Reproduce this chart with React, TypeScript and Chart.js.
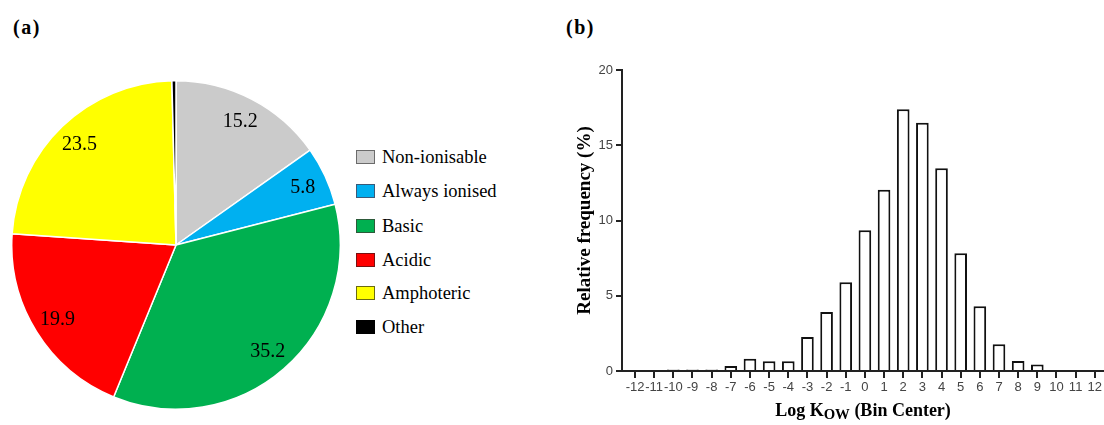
import React, { useEffect, useRef } from "react";
import { Chart, registerables } from "chart.js";

Chart.register(...registerables);

// ---------- Panel (a) data ----------
const pieLabels = ["Non-ionisable", "Always ionised", "Basic", "Acidic", "Amphoteric", "Other"];
const pieValues = [15.2, 5.8, 35.2, 19.9, 23.5, 0.4];
const pieColors = ["#cbcbcb", "#00b0f0", "#00b050", "#ff0000", "#ffff00", "#000000"];
const legendBorders = ["#6b6b6b", "#3a5a78", "#2d5a3a", "#7a1010", "#6b6b10", "#000000"];

// ---------- Panel (b) data ----------
const binCenters = [-12, -11, -10, -9, -8, -7, -6, -5, -4, -3, -2, -1, 0, 1, 2, 3, 4, 5, 6, 7, 8, 9, 10, 11, 12];
const relFreq = [0, 0, 0.1, 0.1, 0.1, 0.33, 0.82, 0.65, 0.65, 2.26, 3.92, 5.9, 9.35, 12.05, 17.4, 16.5, 13.47, 7.82, 4.3, 1.77, 0.66, 0.44, 0, 0, 0];
const yTicks = [0, 5, 10, 15, 20];

const SERIF = "'Liberation Serif', 'Times New Roman', serif";
const NARROW = "'Liberation Sans Narrow', 'Arial Narrow', 'Liberation Sans', Arial, sans-serif";

const pieLabelPlugin = {
  id: "pieLabels",
  afterDatasetsDraw(chart: any) {
    const ctx = chart.ctx;
    const meta = chart.getDatasetMeta(0);
    ctx.save();
    ctx.font = `20px ${SERIF}`;
    ctx.fillStyle = "#000";
    ctx.textAlign = "center";
    ctx.textBaseline = "middle";
    meta.data.forEach((arc: any, i: number) => {
      const v = pieValues[i];
      if (v < 1) return;
      const p = arc.getProps(["x", "y", "startAngle", "endAngle", "outerRadius"], true);
      const mid = (p.startAngle + p.endAngle) / 2;
      const r = p.outerRadius * 0.85;
      ctx.fillText(v.toFixed(1), p.x + Math.cos(mid) * r, p.y + Math.sin(mid) * r + 1);
    });
    ctx.restore();
  },
};

function PieChart() {
  const ref = useRef<HTMLCanvasElement>(null);
  useEffect(() => {
    const chart = new Chart(ref.current as HTMLCanvasElement, {
      type: "pie",
      data: {
        labels: pieLabels,
        datasets: [
          {
            data: pieValues,
            backgroundColor: pieColors,
            borderColor: "#ffffff",
            borderWidth: 1.5,
          },
        ],
      },
      options: {
        animation: false,
        responsive: false,
        maintainAspectRatio: false,
        devicePixelRatio: 1,
        layout: { padding: 0 },
        plugins: { legend: { display: false }, tooltip: { enabled: false } },
      },
      plugins: [pieLabelPlugin],
    } as any);
    return () => chart.destroy();
  }, []);
  return (
    <canvas
      ref={ref}
      width={330}
      height={330}
      style={{ position: "absolute", left: 11, top: 80, width: 330, height: 330 }}
    />
  );
}

function BarChart() {
  const ref = useRef<HTMLCanvasElement>(null);
  useEffect(() => {
    const chart = new Chart(ref.current as HTMLCanvasElement, {
      type: "bar",
      data: {
        datasets: [
          {
            data: binCenters.map((b, i) => ({ x: b, y: relFreq[i] })),
            backgroundColor: "#ffffff",
            borderColor: "#111111",
            borderWidth: 2,
            barPercentage: 0.66,
            categoryPercentage: 1,
          },
        ],
      },
      options: {
        animation: false,
        responsive: false,
        maintainAspectRatio: false,
        devicePixelRatio: 1,
        layout: { padding: { top: 70, left: 0, right: 0, bottom: 0 } },
        plugins: { legend: { display: false }, tooltip: { enabled: false } },
        scales: {
          x: {
            type: "linear",
            min: -12.68,
            max: 12.47,
            offset: false,
            afterFit: (s: any) => {
              s.height = 54;
            },
            afterBuildTicks: (s: any) => {
              s.ticks = binCenters.map((v) => ({ value: v }));
            },
            ticks: {
              stepSize: 1,
              includeBounds: false,
              autoSkip: false,
              maxRotation: 0,
              color: "#444",
              padding: 2,
              font: { family: NARROW, size: 13 },
            },
            grid: {
              offset: false,
              drawOnChartArea: false,
              drawTicks: true,
              tickLength: 7,
              color: "#222",
              lineWidth: 2,
            },
            border: { display: true, color: "#222", width: 2 },
          },
          y: {
            min: 0,
            max: 20,
            afterFit: (s: any) => {
              s.width = 62;
            },
            afterBuildTicks: (s: any) => {
              s.ticks = yTicks.map((v) => ({ value: v }));
            },
            ticks: {
              stepSize: 5,
              color: "#444",
              padding: 3,
              font: { family: NARROW, size: 13 },
            },
            grid: {
              drawOnChartArea: false,
              drawTicks: true,
              tickLength: 6,
              color: "#222",
              lineWidth: 2,
            },
            border: { display: true, color: "#222", width: 2 },
            title: {
              display: true,
              text: "Relative frequency (%)",
              color: "#000",
              font: { family: SERIF, size: 19, weight: "bold" },
              padding: { top: 14, bottom: 0 },
            },
          },
        },
      },
    } as any);
    return () => chart.destroy();
  }, []);
  return (
    <canvas
      ref={ref}
      width={544}
      height={425}
      style={{ position: "absolute", left: 560, top: 0, width: 544, height: 425 }}
    />
  );
}

export default function App() {
  const legendTop = [157, 191, 225.5, 259.5, 293, 327];
  return (
    <div
      style={{
        position: "fixed",
        left: 0,
        top: 0,
        width: 1104,
        height: 425,
        background: "#ffffff",
        overflow: "hidden",
        fontFamily: SERIF,
      }}
    >
      <div style={{ position: "absolute", left: 13, top: 17, fontSize: 20, lineHeight: "20px", fontWeight: "bold", letterSpacing: 1.5 }}>
        (a)
      </div>
      <div style={{ position: "absolute", left: 566, top: 17, fontSize: 20, lineHeight: "20px", fontWeight: "bold", letterSpacing: 1.5 }}>
        (b)
      </div>
      <PieChart />
      {pieLabels.map((lab, i) => (
        <div key={lab} style={{ position: "absolute", left: 356, top: legendTop[i] - 10, height: 20, display: "flex", alignItems: "center" }}>
          <div
            style={{
              width: 17,
              height: 12,
              background: pieColors[i],
              border: `1px solid ${legendBorders[i]}`,
              marginRight: 7,
            }}
          />
          <div style={{ fontSize: 18.5, lineHeight: "20px", whiteSpace: "pre", color: "#000" }}>{lab}</div>
        </div>
      ))}
      <BarChart />
      <div
        style={{
          position: "absolute",
          left: 713,
          width: 300,
          top: 401,
          textAlign: "center",
          fontSize: 18,
          lineHeight: "18px",
          fontWeight: "bold",
          color: "#000",
        }}
      >
        Log K<span style={{ fontSize: "0.82em", position: "relative", top: 3 }}>OW</span> (Bin Center)
      </div>
    </div>
  );
}
